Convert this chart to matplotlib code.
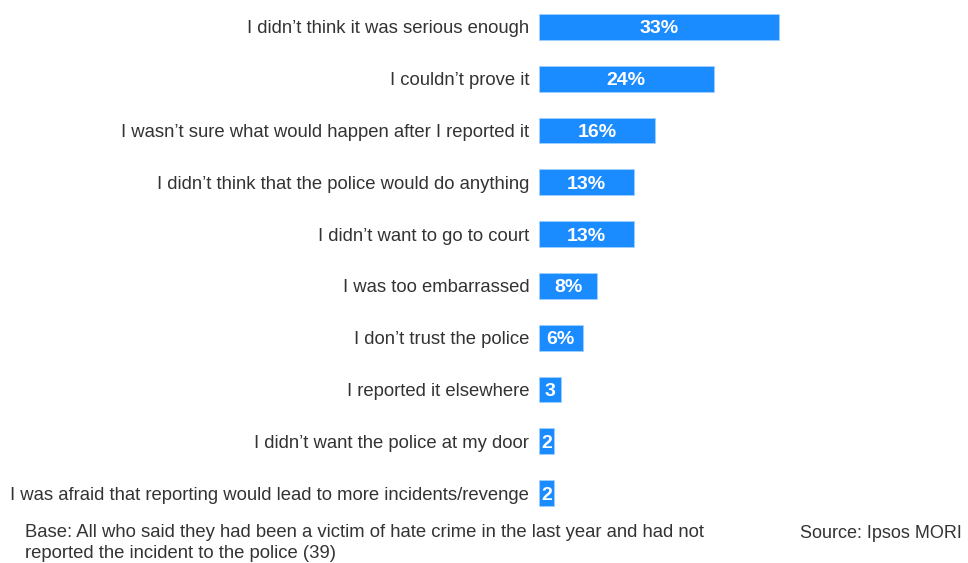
import matplotlib.pyplot as plt

plt.rcParams['font.family'] = ['Liberation Sans', 'DejaVu Sans']

reasons = [
    "I didn\u2019t think it was serious enough",
    "I couldn\u2019t prove it",
    "I wasn\u2019t sure what would happen after I reported it",
    "I didn\u2019t think that the police would do anything",
    "I didn\u2019t want to go to court",
    "I was too embarrassed",
    "I don\u2019t trust the police",
    "I reported it elsewhere",
    "I didn\u2019t want the police at my door",
    "I was afraid that reporting would lead to more incidents/revenge",
]
values = [33, 24, 16, 13, 13, 8, 6, 3, 2, 2]
value_labels = ["33%", "24%", "16%", "13%", "13%", "8%", "6%", "3", "2", "2"]

fig = plt.figure(figsize=(9.68, 5.63), dpi=100)
ax = fig.add_axes([539 / 968, 44 / 563, 429 / 968, 518 / 563])

y = list(range(len(reasons)))
ax.barh(y, values, height=0.5, color='#1a8cff', edgecolor='#9fd0ff', linewidth=0.6)
for yi, v, lab in zip(y, values, value_labels):
    ax.text(v / 2, yi, lab, ha='center', va='center_baseline', color='white',
            fontsize=14, fontweight='bold')

ax.set_xlim(0, 59)
ax.set_ylim(len(reasons) - 0.5, -0.5)
ax.set_yticks(y)
ax.set_yticklabels(reasons, fontsize=13.3, color='#333333')
ax.tick_params(axis='y', length=0, pad=7)
ax.set_xticks([])
for s in ax.spines.values():
    s.set_visible(False)

fig.text(25 / 968, 1 - 543 / 563,
         "Base: All who said they had been a victim of hate crime in the last year and had not\n"
         "reported the incident to the police (39)",
         fontsize=13.3, color='#333333', va='center', linespacing=1.25)
fig.text(800 / 968, 1 - 533 / 563, "Source: Ipsos MORI", fontsize=13,
         color='#333333', va='center')

fig.savefig('out.png', dpi=100)
